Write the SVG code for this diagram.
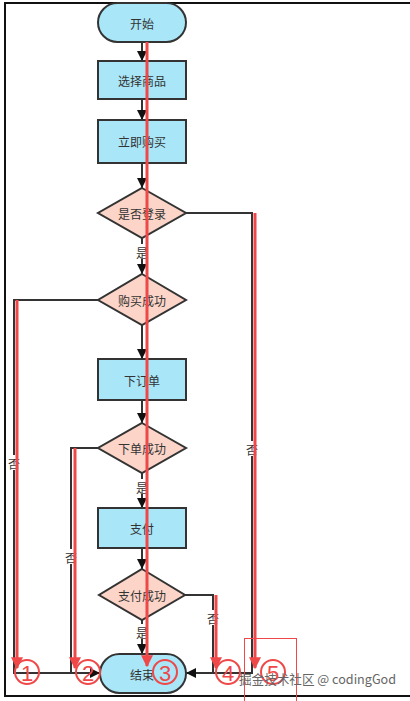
<svg xmlns="http://www.w3.org/2000/svg" width="410" height="701" viewBox="0 0 410 701">
<defs>
<style>
.frame{fill:none;stroke:#111;stroke-width:2}
.term{fill:#a8e6f8;stroke:#333;stroke-width:2}
.proc{fill:#a8e6f8;stroke:#333;stroke-width:2}
.dec{fill:#fcd5c8;stroke:#333;stroke-width:2}
.lbl{font-family:"Noto Sans CJK SC","Liberation Sans",sans-serif;font-size:12px;fill:#333;text-anchor:middle;dominant-baseline:central}
.edge{fill:none;stroke:#333;stroke-width:2}
.elbl{font-family:"Noto Sans CJK SC","Liberation Sans",sans-serif;font-size:12px;fill:#333;text-anchor:middle;dominant-baseline:central}
.bg{fill:#fff}
.red{fill:none;stroke:#f04848;stroke-width:3}
.rc{fill:none;stroke:#f04848;stroke-width:2}
.rn{font-family:"Liberation Sans",sans-serif;font-size:22px;fill:#f04848;text-anchor:middle;dominant-baseline:central}
.wm{font-family:"Noto Sans CJK SC","Liberation Sans",sans-serif;font-size:13px;fill:#666}
</style>
<marker id="ah" viewBox="0 0 10 10" refX="10" refY="5" markerWidth="5" markerHeight="5" orient="auto" markerUnits="strokeWidth"><path d="M0,0 L10,5 L0,10 z" fill="#111"/></marker>
<marker id="rh" viewBox="0 0 10 10" refX="9" refY="5" markerWidth="4" markerHeight="4" orient="auto" markerUnits="strokeWidth"><path d="M0,0 L10,5 L0,10 z" fill="#f04848"/></marker>
</defs>
<rect width="410" height="701" fill="#fff"/>
<rect class="frame" x="5" y="3" width="420" height="693"/>

<g id="connectors">
<path class="edge" d="M142,42 V61" marker-end="url(#ah)"/>
<path class="edge" d="M142,99 V120" marker-end="url(#ah)"/>
<path class="edge" d="M142,163 V188" marker-end="url(#ah)"/>
<path class="edge" d="M142,238 V274" marker-end="url(#ah)"/>
<path class="edge" d="M142,325 V359" marker-end="url(#ah)"/>
<path class="edge" d="M142,400 V423" marker-end="url(#ah)"/>
<path class="edge" d="M142,473 V508" marker-end="url(#ah)"/>
<path class="edge" d="M142,548 V569" marker-end="url(#ah)"/>
<path class="edge" d="M142,620 V654" marker-end="url(#ah)"/>
<path class="edge" d="M186,213 H252 V673 H186" marker-end="url(#ah)"/>
<path class="edge" d="M98,300 H14 V673 H100" marker-end="url(#ah)"/>
<path class="edge" d="M98,448 H71 V673"/>
<path class="edge" d="M185,595 H213 V673"/>
<rect class="bg" x="135" y="244" width="14" height="15"/>
<text class="elbl" x="142" y="252">是</text>
<rect class="bg" x="135" y="479" width="14" height="15"/>
<text class="elbl" x="142" y="487">是</text>
<rect class="bg" x="135" y="624" width="14" height="15"/>
<text class="elbl" x="142" y="632">是</text>
<rect class="bg" x="245" y="441" width="14" height="15"/>
<text class="elbl" x="252" y="449">否</text>
<rect class="bg" x="7" y="455" width="14" height="15"/>
<text class="elbl" x="14" y="463">否</text>
<rect class="bg" x="64" y="549" width="14" height="15"/>
<text class="elbl" x="71" y="557">否</text>
<rect class="bg" x="206" y="610" width="14" height="15"/>
<text class="elbl" x="213" y="618">否</text>
</g>

<g id="start"><rect class="term" x="98" y="3" width="88" height="39" rx="19.5"/><text class="lbl" x="142" y="23">开始</text></g>
<g id="select"><rect class="proc" x="98" y="61" width="88" height="38"/><text class="lbl" x="142" y="80">选择商品</text></g>
<g id="buynow"><rect class="proc" x="98" y="120" width="88" height="43"/><text class="lbl" x="142" y="141.5">立即购买</text></g>
<g id="login"><polygon class="dec" points="142,188 186,213 142,238 98,213"/><text class="lbl" x="142" y="213">是否登录</text></g>
<g id="buyok"><polygon class="dec" points="142,274 186,300 142,325 98,300"/><text class="lbl" x="142" y="300">购买成功</text></g>
<g id="order"><rect class="proc" x="98" y="359" width="88" height="41"/><text class="lbl" x="142" y="380">下订单</text></g>
<g id="orderok"><polygon class="dec" points="142,423 186,448 142,473 98,448"/><text class="lbl" x="142" y="448">下单成功</text></g>
<g id="pay"><rect class="proc" x="98" y="508" width="88" height="40"/><text class="lbl" x="142" y="528">支付</text></g>
<g id="payok"><polygon class="dec" points="142,569 185,595 142,620 99,595"/><text class="lbl" x="142" y="595">支付成功</text></g>
<g id="end"><rect class="term" x="100" y="654" width="86" height="39" rx="19.5"/><text class="lbl" x="142" y="674">结束</text></g>

<g id="annotations">
<path class="red" d="M147,42 V666" marker-end="url(#rh)"/>
<path class="red" d="M17,300 V668" marker-end="url(#rh)"/>
<path class="red" d="M75,448 V668" marker-end="url(#rh)"/>
<path class="red" d="M216,595 V668" marker-end="url(#rh)"/>
<path class="red" d="M255,213 V668" marker-end="url(#rh)"/>
<circle class="rc" cx="27" cy="672" r="12"/><text class="rn" x="27" y="673">1</text>
<circle class="rc" cx="88" cy="672" r="12"/><text class="rn" x="88" y="673">2</text>
<circle class="rc" cx="165" cy="672" r="12"/><text class="rn" x="165" y="673">3</text>
<circle class="rc" cx="228" cy="672" r="12"/><text class="rn" x="228" y="673">4</text>
<circle class="rc" cx="273" cy="672" r="12"/><text class="rn" x="273" y="673">5</text>
<rect x="244.5" y="638.5" width="52" height="70" fill="none" stroke="#f04848" stroke-width="1"/>
</g>
<text class="wm" x="239" y="684" textLength="157" lengthAdjust="spacingAndGlyphs">掘金技术社区 @ codingGod</text>
</svg>
